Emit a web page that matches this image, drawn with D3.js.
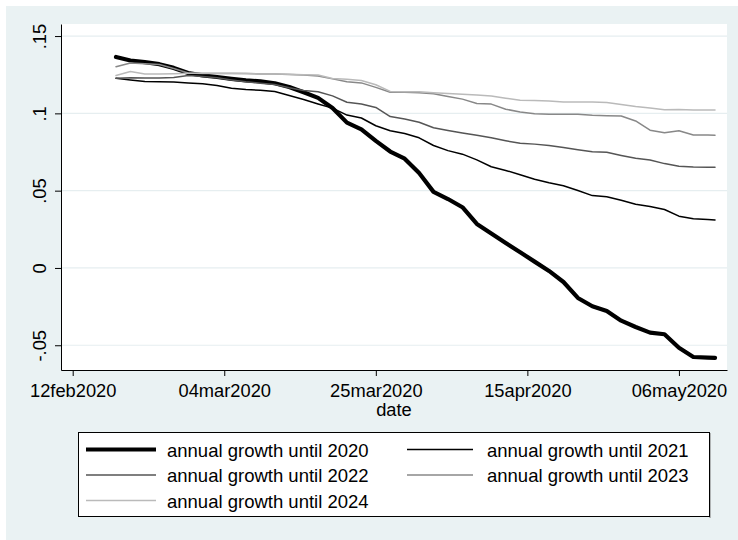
<!DOCTYPE html>
<html><head><meta charset="utf-8">
<script src="https://cdn.jsdelivr.net/npm/d3@7"></script>
<style>
body{margin:0;background:#fff}
svg{display:block}
text{font-family:"Liberation Sans",Arial,sans-serif;fill:#000}
</style>
</head><body>
<svg id="chart" width="738" height="540"></svg>
<script>
// ---- data ----
const dates = ["2020-02-18","2020-02-20","2020-02-22","2020-02-24","2020-02-26","2020-02-28",
  "2020-03-01","2020-03-03","2020-03-05","2020-03-07","2020-03-09","2020-03-11","2020-03-13",
  "2020-03-15","2020-03-17","2020-03-19","2020-03-21","2020-03-23","2020-03-25","2020-03-27",
  "2020-03-29","2020-03-31","2020-04-02","2020-04-04","2020-04-06","2020-04-08","2020-04-10",
  "2020-04-12","2020-04-14","2020-04-16","2020-04-18","2020-04-20","2020-04-22","2020-04-24",
  "2020-04-26","2020-04-28","2020-04-30","2020-05-02","2020-05-04","2020-05-06","2020-05-08",
  "2020-05-10","2020-05-11"];
const growth2020 = [0.1365,0.1342,0.1331,0.1318,0.1294,0.1261,0.1246,0.1235,0.1223,0.1213,0.1207,
  0.1195,0.1171,0.1136,0.1100,0.1035,0.0940,0.0897,0.0822,0.0753,0.0707,0.0614,0.0492,0.0446,
  0.0393,0.0285,0.0223,0.0162,0.0102,0.0041,-0.0019,-0.0091,-0.0194,-0.0248,-0.0278,-0.0341,
  -0.0382,-0.0418,-0.0429,-0.0516,-0.0576,-0.0580,-0.0582];
const growth2021 = [0.1227,0.1216,0.1206,0.1204,0.1203,0.1197,0.1191,0.1180,0.1163,0.1154,0.1149,
  0.1141,0.1115,0.1090,0.1061,0.1034,0.0989,0.0970,0.0920,0.0888,0.0870,0.0842,0.0792,0.0759,
  0.0736,0.0699,0.0655,0.0631,0.0603,0.0574,0.0551,0.0532,0.0501,0.0468,0.0460,0.0438,0.0412,
  0.0398,0.0378,0.0335,0.0318,0.0313,0.0310];
const growth2022 = [0.1227,0.1230,0.1229,0.1228,0.1232,0.1245,0.1239,0.1230,0.1216,0.1204,0.1195,
  0.1187,0.1166,0.1148,0.1140,0.1113,0.1072,0.1061,0.1038,0.0979,0.0964,0.0942,0.0907,0.0889,
  0.0873,0.0858,0.0842,0.0823,0.0806,0.0801,0.0792,0.0779,0.0765,0.0752,0.0748,0.0728,0.0710,
  0.0698,0.0675,0.0658,0.0653,0.0652,0.0651];
const growth2023 = [0.1302,0.1326,0.1321,0.1316,0.1290,0.1261,0.1258,0.1258,0.1258,0.1258,0.1255,
  0.1254,0.1252,0.1248,0.1242,0.1223,0.1204,0.1197,0.1168,0.1136,0.1136,0.1133,0.1127,0.1109,
  0.1092,0.1064,0.1060,0.1027,0.1009,0.0997,0.0995,0.0994,0.0994,0.0988,0.0985,0.0983,0.0951,
  0.0891,0.0874,0.0888,0.0860,0.0860,0.0858];
const growth2024 = [0.1245,0.1271,0.1255,0.1255,0.1256,0.1259,0.1259,0.1259,0.1259,0.1258,0.1255,
  0.1254,0.1253,0.1250,0.1248,0.1226,0.1220,0.1213,0.1185,0.1142,0.1140,0.1140,0.1134,0.1128,
  0.1123,0.1119,0.1113,0.1098,0.1085,0.1083,0.1080,0.1074,0.1073,0.1074,0.1071,0.1058,0.1044,
  0.1034,0.1023,0.1025,0.1022,0.1022,0.1022];
const seriesNames = ["annual growth until 2020","annual growth until 2021","annual growth until 2022",
  "annual growth until 2023","annual growth until 2024"];
const yTicks = [0.15, 0.1, 0.05, 0, -0.05];
const yTickLabels = [".15", ".1", ".05", "0", "-.05"];
const xTicks = ["2020-02-12","2020-03-04","2020-03-25","2020-04-15","2020-05-06"];
const xTickLabels = ["12feb2020","04mar2020","25mar2020","15apr2020","06may2020"];
const xTitle = "date";

// ---- styles ----
const seriesValues = [growth2020, growth2021, growth2022, growth2023, growth2024];
const colors = ["#000000","#000000","#555555","#888888","#bababa"];
const widths = [4.2, 1.5, 1.5, 1.5, 1.5];

const parse = d3.utcParse("%Y-%m-%d");
const DAY = 864e5;
const svg = d3.select("#chart");
const bg = "#eaf2f3";
const L = 61, R = 727, T = 24, B = 370;

svg.append("rect").attr("x",0).attr("y",0).attr("width",738).attr("height",540).attr("fill","#fff");
svg.append("rect").attr("x",6).attr("y",6).attr("width",732).attr("height",534).attr("fill",bg);
svg.append("rect").attr("x",L).attr("y",T).attr("width",R-L).attr("height",B-T).attr("fill","#fff");

const x = d3.scaleUtc()
  .domain([new Date(parse("2020-02-12").getTime() - 1.62*DAY), new Date(parse("2020-05-06").getTime() + 6.66*DAY)])
  .range([L, R]);
const y = d3.scaleLinear().domain([-0.066, 0.1578]).range([B, T]);

// gridlines
svg.append("g").selectAll("line").data(yTicks).join("line")
  .attr("x1", L).attr("x2", R).attr("y1", d => y(d)).attr("y2", d => y(d))
  .attr("stroke", "#e6eef0").attr("stroke-width", 1.2);

// axes
const yAxis = d3.axisLeft(y).tickValues(yTicks).tickFormat((d,i)=>yTickLabels[i]).tickSize(6).tickSizeOuter(0).tickPadding(0);
const gy = svg.append("g").attr("transform",`translate(${L},0)`).call(yAxis);
gy.selectAll("text").attr("x",null).attr("dy",null).attr("text-anchor","middle")
  .attr("transform","translate(-15,0) rotate(-90)").style("font-size","18.3px").style("font-family",'"Liberation Sans",Arial,sans-serif');
gy.selectAll("line, path").attr("stroke","#000").attr("stroke-width",1);

const xAxis = d3.axisBottom(x).tickValues(xTicks.map(parse)).tickFormat((d,i)=>xTickLabels[i]).tickSize(6).tickSizeOuter(0).tickPadding(6);
const gx = svg.append("g").attr("transform",`translate(0,${B})`).call(xAxis);
gx.selectAll("text").attr("dy",null).attr("y",26.5).style("font-size","18.3px").style("font-family",'"Liberation Sans",Arial,sans-serif');
gx.selectAll("line, path").attr("stroke","#000").attr("stroke-width",1);
svg.selectAll(".domain").attr("fill","none");

svg.append("text").attr("x",(L+R)/2).attr("y",415.5).attr("text-anchor","middle")
  .style("font-size","18.3px").text(xTitle);

// lines
const line = d3.line().x((d,i)=>x(parse(dates[i]))).y(d=>y(d)).curve(d3.curveLinear);
svg.append("g").selectAll("path").data(seriesValues).join("path")
  .attr("d", d => line(d)).attr("fill","none")
  .attr("stroke",(d,i)=>colors[i]).attr("stroke-width",(d,i)=>widths[i])
  .attr("stroke-linejoin","round").attr("stroke-linecap","round");

// legend
const lg = svg.append("g");
lg.append("line").attr("x1",710).attr("x2",710).attr("y1",433).attr("y2",518).attr("stroke","#777").attr("stroke-width",1);
lg.append("rect").attr("x",78.5).attr("y",432.5).attr("width",631).attr("height",84).attr("fill","#fff").attr("stroke","#000").attr("stroke-width",1);
const rowsY = [449.5, 475, 500.5];
const colX = [[86,156,167],[407,473,487]];
seriesNames.forEach((name,i)=>{
  const r = Math.floor(i/2), c = i%2;
  const ly = rowsY[r];
  lg.append("line").attr("x1",colX[c][0]).attr("x2",colX[c][1]).attr("y1",ly).attr("y2",ly)
    .attr("stroke",colors[i]).attr("stroke-width",widths[i]);
  lg.append("text").attr("x",colX[c][2]).attr("y",ly+7).style("font-size","18.5px").text(name);
});
</script>
</body></html>
